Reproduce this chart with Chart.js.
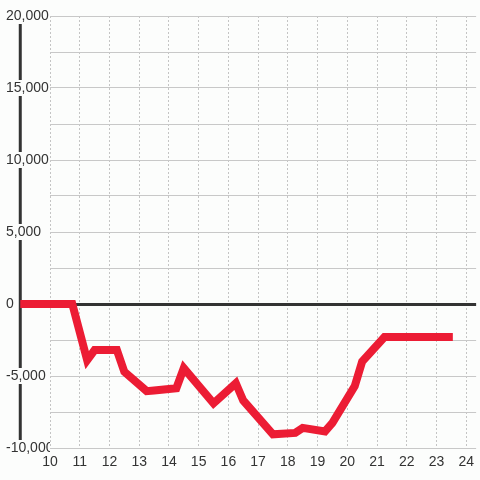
<!DOCTYPE html>
<html>
<head>
<meta charset="utf-8">
<script src="https://cdn.jsdelivr.net/npm/chart.js@4.4.1/dist/chart.umd.min.js"></script>
<style>
  html, body { margin: 0; padding: 0; background: #fcfdfc; }
</style>
</head>
<body>
<canvas id="chart" width="480" height="480"></canvas>
<script>
// hour of day and value
var hours = [9, 10.75, 11.25, 11.5, 12.25, 12.5, 13.25, 13.5, 14.25, 14.5, 15.5, 16.25, 16.5, 17.5, 18.25, 18.5, 19.25, 19.5, 20.25, 20.5, 21.25, 23.55];
var values = [0, 0, -3900, -3200, -3200, -4700, -6050, -6000, -5850, -4450, -6900, -5500, -6700, -9050, -8950, -8600, -8850, -8250, -5700, -4000, -2300, -2300];
var xTicks = [10, 11, 12, 13, 14, 15, 16, 17, 18, 19, 20, 21, 22, 23, 24];
var yLabelTicks = [-10000, -5000, 0, 5000, 10000, 15000, 20000];

var points = hours.map(function(h, i) { return {x: h, y: values[i]}; });

var bgAndAxis = {
  id: 'bgAndAxis',
  beforeDraw: function(chart) {
    var ctx = chart.ctx;
    ctx.save();
    ctx.fillStyle = '#fcfdfc';
    ctx.fillRect(0, 0, chart.width, chart.height);
    var x = chart.scales.x.getPixelForValue(hours[0]);
    ctx.strokeStyle = '#333';
    ctx.lineWidth = 3;
    ctx.beginPath();
    ctx.moveTo(x, chart.scales.y.getPixelForValue(20000));
    ctx.lineTo(x, chart.scales.y.getPixelForValue(-10000));
    ctx.stroke();
    ctx.restore();
  }
};

var myChart = new Chart(document.getElementById('chart').getContext('2d'), {
  type: 'line',
  data: {
    datasets: [{
      data: points,
      borderColor: '#ec1c34',
      borderWidth: 8,
      pointRadius: 0,
      tension: 0,
      fill: false,
      clip: false
    }]
  },
  options: {
    responsive: false,
    animation: false,
    layout: { padding: { top: 16, left: 6, right: 0, bottom: 0 } },
    plugins: { legend: { display: false }, tooltip: { enabled: false } },
    scales: {
      x: {
        type: 'linear',
        min: 10,
        max: 24 + 1 / 3,
        afterBuildTicks: function(s) {
          s.ticks = xTicks.map(function(v) { return {value: v}; });
        },
        afterFit: function(s) { s.height = 32; },
        border: { display: false, dash: [2, 2] },
        grid: { color: '#c4c4c4', lineWidth: 1, drawTicks: false },
        ticks: {
          color: '#333',
          padding: 6,
          maxRotation: 0,
          font: { family: 'Liberation Sans', size: 14 }
        }
      },
      y: {
        min: -10000,
        max: 20000,
        afterFit: function(s) { s.width = 44; },
        border: { display: false },
        grid: {
          drawTicks: false,
          color: function(c) { return c.tick && c.tick.value === 0 ? '#333' : '#c8c8c8'; },
          lineWidth: function(c) { return c.tick && c.tick.value === 0 ? 3 : 1; }
        },
        ticks: {
          stepSize: 2500,
          autoSkip: false,
          crossAlign: 'far',
          padding: 0,
          color: '#333',
          showLabelBackdrop: true,
          backdropColor: '#fcfdfc',
          backdropPadding: 1,
          font: { family: 'Liberation Sans', size: 14, lineHeight: 1 },
          callback: function(v) {
            return yLabelTicks.indexOf(v) >= 0 ? v.toLocaleString('en-US') : '';
          }
        }
      }
    }
  },
  plugins: [bgAndAxis]
});
</script>
</body>
</html>
